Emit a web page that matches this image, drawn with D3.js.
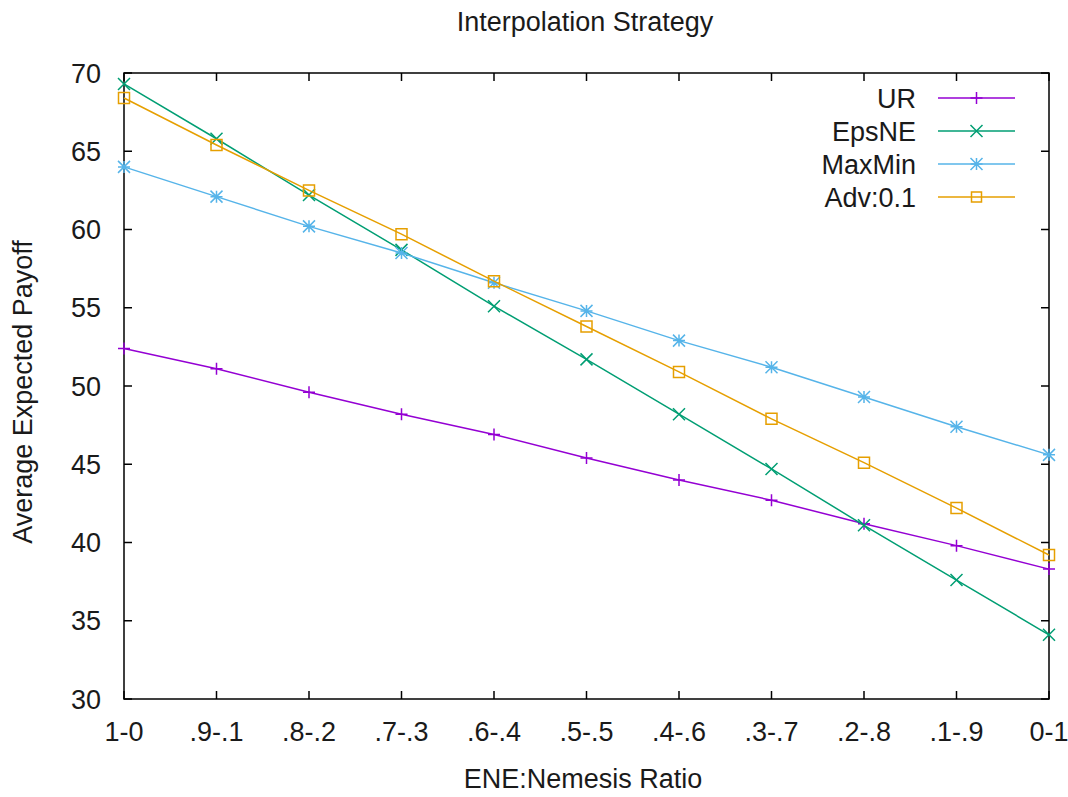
<!DOCTYPE html>
<html>
<head>
<meta charset="utf-8">
<script src="https://cdn.jsdelivr.net/npm/d3@7"></script>
<style>
  html, body { margin: 0; padding: 0; background: #fff; }
  svg { display: block; font-family: "Liberation Sans", Arial, sans-serif; }
</style>
</head>
<body>
<svg id="chart" width="1068" height="797"></svg>
<script>
// Ratio categories along the x axis
const categories = ["1-0", ".9-.1", ".8-.2", ".7-.3", ".6-.4", ".5-.5", ".4-.6", ".3-.7", ".2-.8", ".1-.9", "0-1"];

// Average expected payoff per strategy
const urValues      = [52.4, 51.1, 49.6, 48.2, 46.9, 45.4, 44.0, 42.7, 41.2, 39.8, 38.3];
const epsNEValues   = [69.3, 65.8, 62.2, 58.7, 55.1, 51.7, 48.2, 44.7, 41.1, 37.6, 34.1];
const maxMinValues  = [64.0, 62.1, 60.2, 58.5, 56.6, 54.8, 52.9, 51.2, 49.3, 47.4, 45.6];
const advValues     = [68.4, 65.4, 62.5, 59.7, 56.7, 53.8, 50.9, 47.9, 45.1, 42.2, 39.2];

const yTicks = [30, 35, 40, 45, 50, 55, 60, 65, 70];

const series = [
  { name: "UR",      values: urValues,     color: "#9400d3", marker: "plus" },
  { name: "EpsNE",   values: epsNEValues,  color: "#009e73", marker: "cross" },
  { name: "MaxMin",  values: maxMinValues, color: "#56b4e9", marker: "star" },
  { name: "Adv:0.1", values: advValues,    color: "#e69f00", marker: "square" }
];

const svg = d3.select("#chart");
const margin = { left: 124, right: 1049, top: 73, bottom: 699 };
const fontSize = 27;
const textColor = "#1a1a1a";

const x = d3.scalePoint().domain(categories).range([margin.left, margin.right]);
const y = d3.scaleLinear().domain([30, 70]).range([margin.bottom, margin.top]);

// Marker glyphs drawn around the origin
function markerPath(type, s) {
  const p = d3.path();
  if (type === "plus") {
    p.moveTo(-s, 0); p.lineTo(s, 0); p.moveTo(0, -s); p.lineTo(0, s);
  } else if (type === "cross") {
    p.moveTo(-s, -s); p.lineTo(s, s); p.moveTo(-s, s); p.lineTo(s, -s);
  } else if (type === "star") {
    p.moveTo(-s, 0); p.lineTo(s, 0); p.moveTo(0, -s); p.lineTo(0, s);
    p.moveTo(-s, -s); p.lineTo(s, s); p.moveTo(-s, s); p.lineTo(s, -s);
  } else if (type === "square") {
    p.rect(-s, -s, 2 * s, 2 * s);
  }
  return p.toString();
}

// Title
svg.append("text")
  .attr("x", 585).attr("y", 21)
  .attr("dy", "0.36em")
  .attr("text-anchor", "middle")
  .attr("font-size", fontSize).attr("fill", textColor)
  .text("Interpolation Strategy");

// Axes (inward ticks, mirrored on top and right)
const tickLen = 8;
const axisG = svg.append("g").attr("stroke", "#000").attr("stroke-width", 1.5);

axisG.append("rect")
  .attr("x", margin.left).attr("y", margin.top)
  .attr("width", margin.right - margin.left)
  .attr("height", margin.bottom - margin.top)
  .attr("fill", "none");

yTicks.forEach(t => {
  axisG.append("line").attr("x1", margin.left).attr("x2", margin.left + tickLen)
    .attr("y1", y(t)).attr("y2", y(t));
  axisG.append("line").attr("x1", margin.right).attr("x2", margin.right - tickLen)
    .attr("y1", y(t)).attr("y2", y(t));
});
categories.forEach(c => {
  axisG.append("line").attr("x1", x(c)).attr("x2", x(c))
    .attr("y1", margin.bottom).attr("y2", margin.bottom - tickLen);
  axisG.append("line").attr("x1", x(c)).attr("x2", x(c))
    .attr("y1", margin.top).attr("y2", margin.top + tickLen);
});

// Tick labels
svg.append("g").selectAll("text").data(yTicks).join("text")
  .attr("x", 101).attr("y", d => y(d))
  .attr("dy", "0.36em")
  .attr("text-anchor", "end")
  .attr("font-size", fontSize).attr("fill", textColor)
  .text(d => d);

svg.append("g").selectAll("text").data(categories).join("text")
  .attr("x", d => x(d)).attr("y", 731)
  .attr("dy", "0.36em")
  .attr("text-anchor", "middle")
  .attr("font-size", fontSize).attr("fill", textColor)
  .text(d => d);

// Axis titles
svg.append("text")
  .attr("x", 583).attr("y", 778)
  .attr("dy", "0.36em")
  .attr("text-anchor", "middle")
  .attr("font-size", fontSize).attr("fill", textColor)
  .text("ENE:Nemesis Ratio");

svg.append("text")
  .attr("transform", "translate(22,392) rotate(-90)")
  .attr("dy", "0.36em")
  .attr("text-anchor", "middle")
  .attr("font-size", fontSize).attr("fill", textColor)
  .text("Average Expected Payoff");

// Series lines and markers
const line = d3.line().x((d, i) => x(categories[i])).y(d => y(d));

series.forEach(s => {
  const g = svg.append("g");
  g.append("path")
    .datum(s.values)
    .attr("d", line)
    .attr("fill", "none")
    .attr("stroke", s.color)
    .attr("stroke-width", 1.5);
  const size = s.marker === "square" ? 5.5 : 6;
  g.selectAll("path.mk").data(s.values).join("path")
    .attr("class", "mk")
    .attr("transform", (d, i) => `translate(${x(categories[i])},${y(d)})`)
    .attr("d", markerPath(s.marker, size))
    .attr("fill", "none")
    .attr("stroke", s.color)
    .attr("stroke-width", 1.5);
});

// Legend
const legend = svg.append("g");
series.forEach((s, i) => {
  const ly = 98 + i * 33;
  legend.append("text")
    .attr("x", 916).attr("y", ly)
    .attr("dy", "0.36em")
    .attr("text-anchor", "end")
    .attr("font-size", fontSize).attr("fill", textColor)
    .text(s.name);
  legend.append("line")
    .attr("x1", 938).attr("x2", 1015)
    .attr("y1", ly).attr("y2", ly)
    .attr("stroke", s.color).attr("stroke-width", 1.5);
  legend.append("path")
    .attr("transform", `translate(976.5,${ly})`)
    .attr("d", markerPath(s.marker, s.marker === "square" ? 5 : 6))
    .attr("fill", "none")
    .attr("stroke", s.color)
    .attr("stroke-width", 1.5);
});
</script>
</body>
</html>
